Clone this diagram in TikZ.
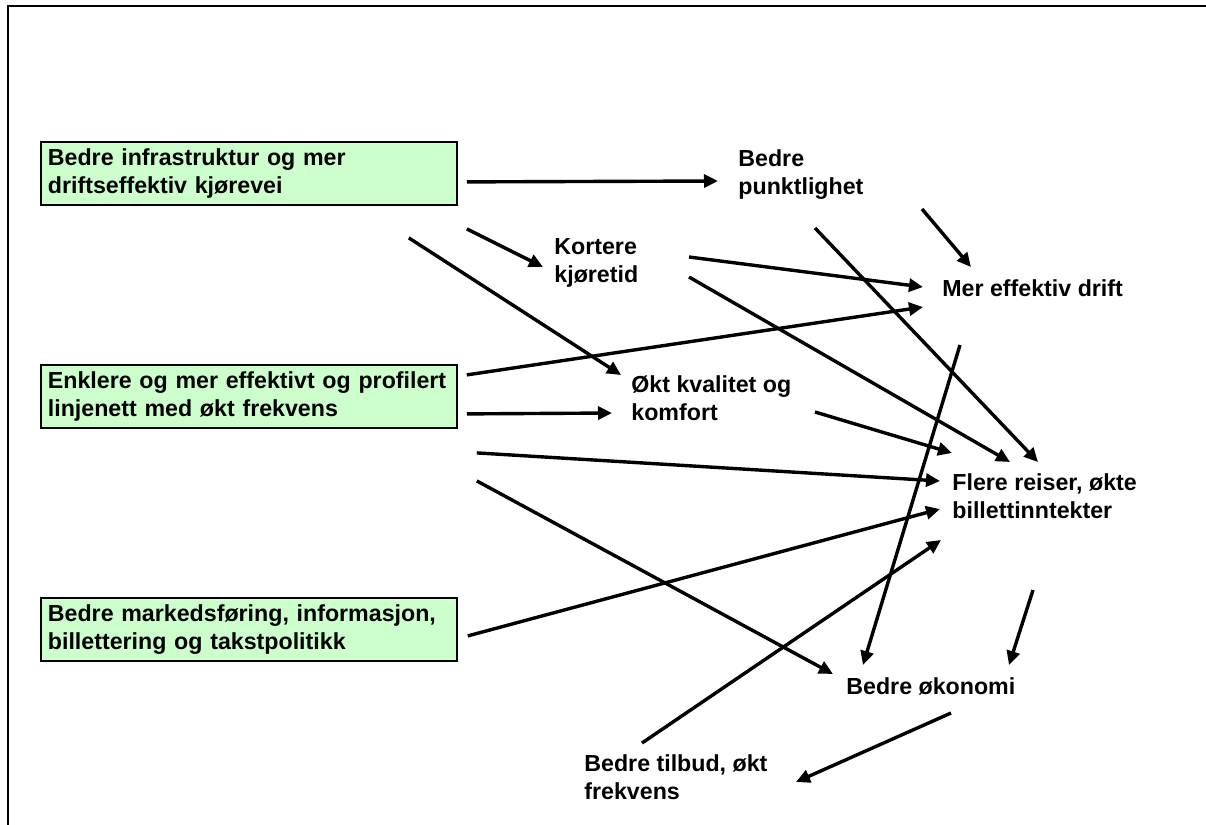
\documentclass[tikz,border=0pt]{standalone}
\usepackage{fontspec}
\setmainfont{Liberation Sans}
\usetikzlibrary{arrows.meta}
\definecolor{boxgreen}{HTML}{CCFFCC}
\newcommand\diagfont{\fontsize{11.6}{14}\selectfont\bfseries}
\tikzset{
	box/.style={draw, line width=0.9pt, fill=boxgreen, anchor=north west, text width=201pt, align=left, inner xsep=3.5pt, inner ysep=2pt, minimum height=31.5pt, font=\diagfont},
	lbl/.style={anchor=west, align=left, inner sep=0pt, font=\diagfont},
	arr/.style={-{Triangle[length=7pt,width=6.5pt]}, line width=1.7pt}
}
\begin{document}
\begin{tikzpicture}[x=0.5pt, y=-0.5pt]
		\useasboundingbox (0,0) rectangle (1206,825);
		\draw[line width=1pt] (1206,6) -- (8,6) -- (8,825);
		% tiltak
		\node[box] (infra) at (40,141) {Bedre infrastruktur og mer\\driftseffektiv kjørevei};
		\node[box] (linje) at (40,364) {Enklere og mer effektivt og profilert\\linjenett med økt frekvens};
		\node[box] (marked) at (40,597) {Bedre markedsføring, informasjon,\\billettering og takstpolitikk};
		% effekter
		\node[lbl] (punkt) at (738,175) {Bedre\\punktlighet};
		\node[lbl] (korte) at (554,263) {Kortere\\kjøretid};
		\node[lbl] (drift) at (942,288) {Mer effektiv drift};
		\node[lbl] (komfort) at (631,398) {Økt kvalitet og\\komfort};
		\node[lbl] (reiser) at (952,496) {Flere reiser, økte\\billettinntekter};
		\node[lbl] (okonomi) at (846,686) {Bedre økonomi};
		\node[lbl] (tilbud) at (584,777) {Bedre tilbud, økt\\frekvens};
		% piler
		\draw[arr] ([shift={(9,8.5)}]infra.east) -- ([shift={(-20,6)}]punkt.west);
		\draw[arr] ([shift={(9,55.5)}]infra.east) -- ([shift={(-11,4)}]korte.west);
		\draw[arr] ([shift={(-49,64.5)}]infra.east) -- ([shift={(-10,-23)}]komfort.west);
		\draw[arr] ([shift={(135,-6)}]korte.west) -- ([shift={(-19,-1)}]drift.west);
		\draw[arr] ([shift={(135,14)}]korte.west) -- ([shift={(58,-34)}]reiser.west);
		\draw[arr] ([shift={(77,53)}]punkt.west) -- ([shift={(86,-34)}]reiser.west);
		\draw[arr] ([shift={(184,34)}]punkt.west) -- ([shift={(29,-21)}]drift.west);
		\draw[arr] ([shift={(9,-21.5)}]linje.east) -- ([shift={(-19,19)}]drift.west);
		\draw[arr] ([shift={(9,17.5)}]linje.east) -- ([shift={(-19,15)}]komfort.west);
		\draw[arr] ([shift={(184,14)}]komfort.west) -- ([shift={(0,-43)}]reiser.west);
		\draw[arr] ([shift={(19,56.5)}]linje.east) -- ([shift={(-12,-15)}]reiser.west);
		\draw[arr] ([shift={(19,84.5)}]linje.east) -- ([shift={(-13,-12)}]okonomi.west);
		\draw[arr] ([shift={(10,6.5)}]marked.east) -- ([shift={(-12,13)}]reiser.west);
		\draw[arr] ([shift={(18,57)}]drift.west) -- ([shift={(17,-21)}]okonomi.west);
		\draw[arr] ([shift={(81,94)}]reiser.west) -- ([shift={(163,-21)}]okonomi.west);
		\draw[arr] ([shift={(105,27)}]okonomi.west) -- ([shift={(212,5)}]tilbud.west);
		\draw[arr] ([shift={(58,-34)}]tilbud.west) -- ([shift={(-11,44)}]reiser.west);
\end{tikzpicture}
\end{document}
